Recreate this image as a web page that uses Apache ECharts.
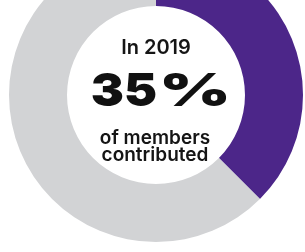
<!DOCTYPE html>
<html lang="en">
<head>
<meta charset="UTF-8">
<title>members contributed</title>
<style>
    * { margin: 0; padding: 0; }
    body { background: #fff; }
    #chart { width: 305px; height: 252px; }
</style>
<script src="https://cdn.jsdelivr.net/npm/echarts@6/dist/echarts.min.js"></script>
</head>
<body>
<div id="chart"></div>
<script>
// share of members (ring as drawn in the picture)
var segNames = ['Contributed', 'Did not contribute'];
var segValues = [37.5, 62.5];
var segColors = ['#4c2689', '#d2d3d5'];
// centre texts
var yearText = 'In 2019';
var bigNum = '35';
var bigSign = '%';
var subLines = ['of members', 'contributed'];

var chart = echarts.init(document.getElementById('chart'));

var pieData = segNames.map(function (n, i) {
    return { name: n, value: segValues[i], itemStyle: { color: segColors[i] } };
});

var font = 'Inter, "Noto Sans", sans-serif';

chart.setOption({
    backgroundColor: '#fff',
    animation: false,
    series: [{
        type: 'pie',
        silent: true,
        center: [156, 95],
        radius: [89, 147],
        startAngle: 90,
        label: { show: false },
        labelLine: { show: false },
        data: pieData
    }],
    graphic: [
        { // In 2019
            type: 'text', x: 156, y: 38,
            style: { text: yearText, x: 0, y: 0, align: 'center', verticalAlign: 'top',
                font: '600 20px ' + font, fill: '#151515' }
        },
        { // 35
            type: 'text', x: 124, y: 69, scaleX: 1.08,
            style: { text: bigNum, x: 0, y: 0, align: 'center', verticalAlign: 'top',
                font: '900 46px ' + font, fill: '#111' }
        },
        { // %
            type: 'text', x: 159, y: 69, scaleX: 1.5,
            style: { text: bigSign, x: 0, y: 0, align: 'left', verticalAlign: 'top',
                font: '900 46px ' + font, fill: '#111' }
        },
        {
            type: 'text', x: 155, y: 129,
            style: { text: subLines[0], x: 0, y: 0, align: 'center', verticalAlign: 'top',
                font: '600 19px ' + font, fill: '#151515' }
        },
        {
            type: 'text', x: 155, y: 146,
            style: { text: subLines[1], x: 0, y: 0, align: 'center', verticalAlign: 'top',
                font: '600 19px ' + font, fill: '#151515' }
        }
    ]
});
</script>
</body>
</html>
